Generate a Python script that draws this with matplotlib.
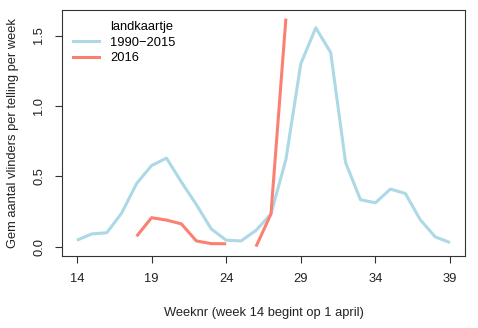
import numpy as np
import matplotlib.pyplot as plt
from matplotlib.lines import Line2D

plt.rcParams["font.family"] = ["Liberation Sans", "DejaVu Sans"]

weeks = list(range(14, 40))
avg_1990_2015 = [0.047, 0.092, 0.10, 0.24, 0.45, 0.577, 0.63, 0.46, 0.30, 0.127,
                 0.047, 0.042, 0.117, 0.233, 0.62, 1.30, 1.555, 1.38, 0.598, 0.334,
                 0.313, 0.41, 0.379, 0.193, 0.071, 0.030]
weeks_2016 = [18, 19, 20, 21, 22, 23, 24, 25, 26, 27, 28]
avg_2016 = [0.075, 0.207, 0.19, 0.163, 0.042, 0.023, 0.022, np.nan, 0.002, 0.233, 1.62]
xticks = [14, 19, 24, 29, 34, 39]
yticks = [0.0, 0.5, 1.0, 1.5]

blue = "#ADD8E6"
red = "#FA8072"
fs = 9.3

fig = plt.figure(figsize=(4.78, 3.28), dpi=100)
ax = fig.add_axes([62 / 478, 72 / 328, 403 / 478, 246.5 / 328])

ax.plot(weeks, avg_1990_2015, color=blue, lw=2.2, solid_capstyle="butt")
ax.plot(weeks_2016, avg_2016, color=red, lw=2.2, solid_capstyle="butt")

ax.set_xlim(13, 40)
ax.set_ylim(-0.065, 1.685)
ax.set_xticks(xticks)
ax.set_xticklabels([str(t) for t in xticks])
ax.set_yticks(yticks)
ax.set_yticklabels([f"{t:.1f}" for t in yticks], rotation=90, va="center")
ax.tick_params(length=5, width=0.8, labelsize=fs, color="#333333", labelcolor="#222222", pad=7)
for s in ax.spines.values():
    s.set_color("#333333")
    s.set_linewidth(0.8)

ax.set_xlabel("Weeknr (week 14 begint op 1 april)", fontsize=fs, color="#222222", labelpad=16)
ax.set_ylabel("Gem aantal vlinders per telling per week", fontsize=fs, color="#222222", labelpad=10)

handles = [Line2D([], [], color="none"),
           Line2D([], [], color=blue, lw=2.2),
           Line2D([], [], color=red, lw=2.2)]
ax.legend(handles, ["landkaartje", "1990\u22122015", "2016"], loc="upper left",
          bbox_to_anchor=(0.027, 0.953), frameon=False, fontsize=fs, borderpad=0,
          borderaxespad=0, handlelength=2.0, handletextpad=0.9, labelspacing=0.28)

fig.savefig("out.png", dpi=100)
